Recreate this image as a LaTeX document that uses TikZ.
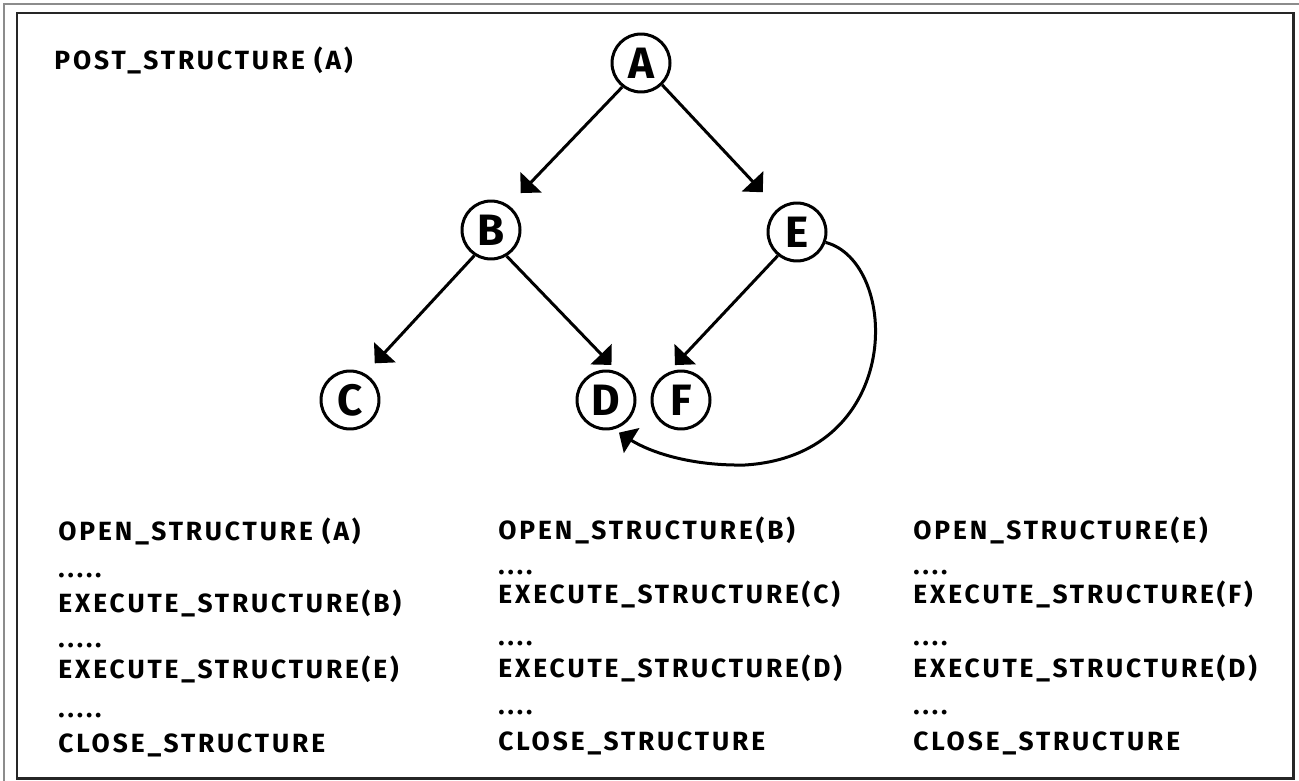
\documentclass[tikz,border=0pt]{standalone}
\usepackage{fontspec}
\setmainfont{Fira Sans}[LetterSpace=11]
\usetikzlibrary{arrows.meta}

\begin{document}
\begin{tikzpicture}[x=0.02cm,y=-0.02cm]
  \tikzset{
    v/.style={circle,draw=black,line width=0.06cm,minimum size=1.16cm,inner sep=0pt,font=\fontsize{25}{25}\selectfont\bfseries},
    arr/.style={draw=black,line width=0.06cm,-{Triangle[length=0.3cm,width=0.58cm]}},
    txt/.style={anchor=base west,inner sep=0pt,font=\fontsize{15}{15}\selectfont\bfseries},
    frame/.style={draw=black!85,line width=0.06cm},
  }
  \useasboundingbox (0,0) rectangle (1299,781);
  % frame
  \draw[draw=black!45,line width=0.06cm] (4,781) -- (4,4) -- (1299,4);
  \draw[frame] (17,13) rectangle (1293,778);

  % tree
  \node[v] (a) at (641,63) {A};
  \node[v] (b) at (491,230) {B};
  \node[v] (e) at (797,232) {E};
  \node[v] (c) at (350,400) {C};
  \node[v] (d) at (606,400) {D};
  \node[v] (f) at (681,400) {F};

  \draw[arr,shorten >=0.34cm] (a.232) -- (b.54);
  \draw[arr,shorten >=0.44cm] (a.314) -- (e.129);
  \draw[arr,shorten >=0.28cm] (b.237) -- (c.60);
  \draw[arr,shorten >=0.2cm] (b.301) -- (d.66);
  \draw[arr,shorten >=0.2cm] (e.231) -- (f.115);
  % E back to D
  \draw[arr,shorten >=0.12cm] (e.-20) .. controls (900,262) and (905,455) .. (745,465)
    .. controls (690,466) and (650,452) .. (d.-75);

  \node[txt] (post) at (54,70) {POST\_STRUCTURE (A)};

  % column 1
  \node[txt] (o1) at (58,540) {OPEN\_STRUCTURE (A)};
  \node[txt] (p1a) at (58,577) {.....};
  \node[txt] (x1b) at (58,612) {EXECUTE\_STRUCTURE(B)};
  \node[txt] (p1b) at (58,647) {.....};
  \node[txt] (x1e) at (58,678) {EXECUTE\_STRUCTURE(E)};
  \node[txt] (p1c) at (58,717) {.....};
  \node[txt] (c1) at (58,752) {CLOSE\_STRUCTURE};
  % column 2
  \node[txt] (o2) at (498,539) {OPEN\_STRUCTURE(B)};
  \node[txt] (p2a) at (498,574) {....};
  \node[txt] (x2c) at (498,603) {EXECUTE\_STRUCTURE(C)};
  \node[txt] (p2b) at (498,645) {....};
  \node[txt] (x2d) at (498,677) {EXECUTE\_STRUCTURE(D)};
  \node[txt] (p2c) at (498,714) {....};
  \node[txt] (c2) at (498,750) {CLOSE\_STRUCTURE};
  % column 3
  \node[txt] (o3) at (913,539) {OPEN\_STRUCTURE(E)};
  \node[txt] (p3a) at (913,574) {....};
  \node[txt] (x3f) at (913,603) {EXECUTE\_STRUCTURE(F)};
  \node[txt] (p3b) at (913,645) {....};
  \node[txt] (x3d) at (913,677) {EXECUTE\_STRUCTURE(D)};
  \node[txt] (p3c) at (913,714) {....};
  \node[txt] (c3) at (913,750) {CLOSE\_STRUCTURE};
\end{tikzpicture}
\end{document}
